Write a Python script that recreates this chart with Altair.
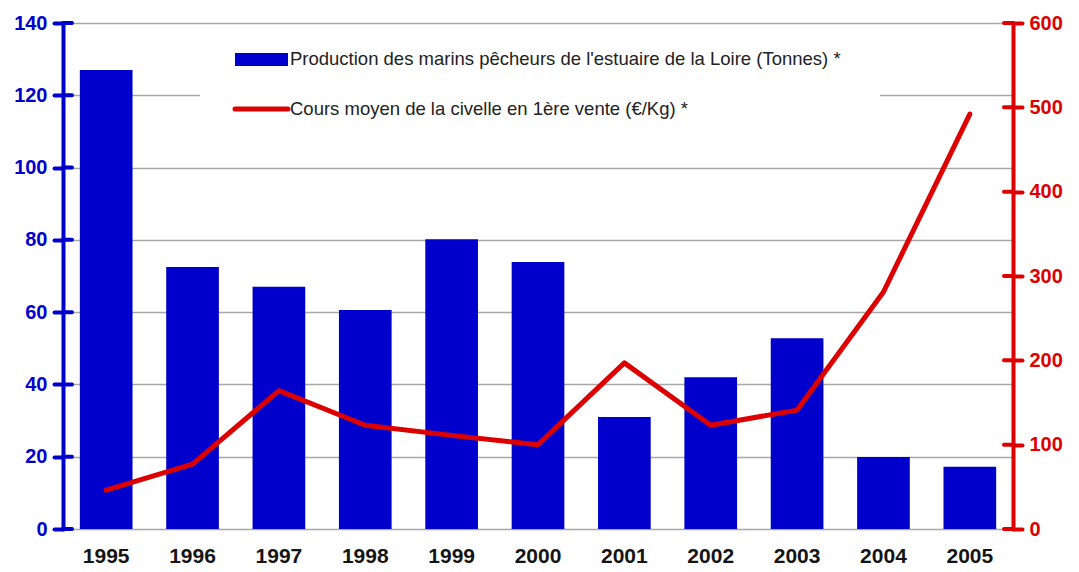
import altair as alt
import pandas as pd

years = ["1995", "1996", "1997", "1998", "1999", "2000", "2001", "2002", "2003", "2004", "2005"]
production = [127, 72.5, 67, 60.6, 80.2, 73.9, 31, 42, 52.8, 19.9, 17.2]
price = [46, 77, 164, 123, 111, 100, 197, 123, 141, 281, 492]
left_ticks = [0, 20, 40, 60, 80, 100, 120, 140]
right_ticks = [0, 100, 200, 300, 400, 500, 600]
legend_labels = [
    "Production des marins pêcheurs de l'estuaire de la Loire (Tonnes) *",
    "Cours moyen de la civelle en 1ère vente (€/Kg) *",
]

BLUE = "#0000CC"
RED = "#DD0000"
FONT = "Liberation Sans"
W, H = 950, 506

df = pd.DataFrame({"year": years, "prod": production, "price": price})

x_enc = alt.X(
    "year:O",
    scale=alt.Scale(paddingInner=0.39, paddingOuter=0.195),
    axis=alt.Axis(title=None, labelAngle=0, domain=False, ticks=False, labelPadding=16,
                  labelFontSize=21, labelFontWeight="bold", labelColor="#151515", labelFont=FONT),
)

yl_scale = alt.Scale(domain=[0, 140], nice=False)
yr_scale = alt.Scale(domain=[0, 600], nice=False)

left_axis = alt.Axis(title=None, values=left_ticks, grid=True, gridColor="#A8A8A8", gridWidth=1.5,
                     domainColor=BLUE, domainWidth=4, domainCap="round",
                     tickColor=BLUE, tickWidth=4, tickSize=9, tickCap="round",
                     labelColor=BLUE, labelFontSize=20, labelFontWeight="bold", labelFont=FONT,
                     labelPadding=7)
right_axis = alt.Axis(title=None, values=right_ticks, grid=False, orient="right",
                      domainColor=RED, domainWidth=4, domainCap="round",
                      tickColor=RED, tickWidth=4, tickSize=9, tickCap="round",
                      labelColor=RED, labelFontSize=20, labelFontWeight="bold", labelFont=FONT,
                      labelPadding=7)

bars = alt.Chart(df).mark_bar(color=BLUE).encode(
    x=x_enc, y=alt.Y("prod:Q", scale=yl_scale, axis=left_axis)
)
lt = alt.Chart(pd.DataFrame({"prod": left_ticks})).mark_rule(
    color=BLUE, strokeWidth=4, strokeCap="round"
).encode(y=alt.Y("prod:Q", scale=yl_scale, axis=left_axis), x=alt.value(0), x2=alt.value(9))

# legend (white box + symbols + text)
one = pd.DataFrame({"a": [0]})
box = alt.Chart(one).mark_rect(color="white").encode(
    x=alt.value(137), x2=alt.value(817), y=alt.value(12), y2=alt.value(107))
sym1 = alt.Chart(one).mark_rect(color=BLUE).encode(
    x=alt.value(172), x2=alt.value(225), y=alt.value(30), y2=alt.value(43))
sym2 = alt.Chart(one).mark_rule(color=RED, strokeWidth=5, strokeCap="round").encode(
    x=alt.value(172), x2=alt.value(225), y=alt.value(86))
t1 = alt.Chart(pd.DataFrame({"label": [legend_labels[0]]})).mark_text(
    align="left", baseline="middle", font=FONT, fontSize=18.5, color="#222222"
).encode(x=alt.value(227), y=alt.value(36), text="label:N")
t2 = alt.Chart(pd.DataFrame({"label": [legend_labels[1]]})).mark_text(
    align="left", baseline="middle", font=FONT, fontSize=18.5, color="#222222"
).encode(x=alt.value(227), y=alt.value(86), text="label:N")

left_group = alt.layer(bars, lt, box, sym1, sym2, t1, t2)

line = alt.Chart(df).mark_line(color=RED, strokeWidth=5, strokeCap="round", strokeJoin="round").encode(
    x=x_enc, y=alt.Y("price:Q", scale=yr_scale, axis=right_axis)
)
rt = alt.Chart(pd.DataFrame({"price": right_ticks})).mark_rule(
    color=RED, strokeWidth=4, strokeCap="round"
).encode(y=alt.Y("price:Q", scale=yr_scale, axis=right_axis), x=alt.value(W - 9), x2=alt.value(W))

right_group = alt.layer(line, rt)

chart = alt.layer(left_group, right_group).resolve_scale(y="independent").properties(
    width=W, height=H,
    padding={"left": 55, "top": 15, "right": 50, "bottom": 42},
    autosize=alt.AutoSizeParams(type="none"),
    background="white",
).configure_view(stroke=None)

chart.save("out.html", embed_options={"renderer": "svg", "actions": False})
